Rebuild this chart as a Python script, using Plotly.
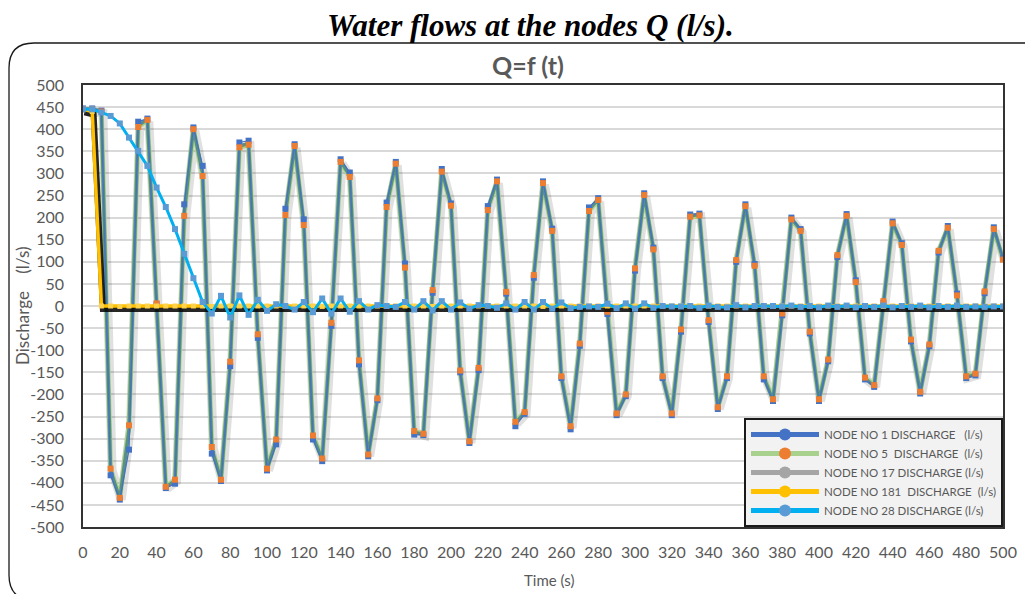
import plotly.graph_objects as go

# ---------------- data ----------------
time_s = list(range(0, 505, 5))

node1 = [447, 447, 442, -383, -438, -325, 417, 424, 4, -412,
         -402, 230, 404, 317, -334, -396, -136, 370, 374, -72,
         -372, -313, 220, 366, 196, -302, -351, -45, 332, 302,
         -132, -340, -213, 234, 326, 96, -291, -292, 30, 310,
         232, -150, -310, -145, 226, 286, 28, -272, -244, 64,
         282, 175, -163, -279, -90, 223, 244, -18, -247, -204,
         80, 255, 132, -163, -247, -58, 207, 209, -36, -233,
         -163, 100, 230, 95, -166, -215, -21, 200, 174, -62,
         -215, -125, 111, 208, 58, -166, -183, 7, 191, 142,
         -80, -198, -91, 121, 181, 28, -163, -157, 29, 178,
         108]

node5 = [445, 445, 440, -368, -434, -270, 405, 421, 6, -409,
         -393, 204, 400, 294, -319, -393, -126, 359, 365, -64,
         -368, -302, 206, 362, 183, -293, -345, -38, 326, 292,
         -123, -336, -209, 224, 322, 87, -283, -289, 36, 304,
         227, -146, -306, -140, 217, 282, 32, -262, -240, 70,
         278, 170, -159, -272, -85, 215, 240, -13, -243, -200,
         85, 251, 128, -159, -243, -53, 202, 205, -32, -229,
         -159, 104, 226, 91, -159, -211, -17, 196, 170, -58,
         -211, -121, 115, 204, 54, -162, -179, 11, 187, 138,
         -76, -194, -87, 125, 177, 24, -159, -153, 33, 174,
         105]

node17 = [445, 445, 441, -372, -436, -280, 409, 422, 5, -410,
          -396, 210, 402, 300, -323, -394, -129, 362, 368, -66,
          -369, -305, 210, 364, 187, -296, -347, -40, 328, 295,
          -126, -338, -210, 227, 324, 90, -286, -290, 34, 306,
          229, -148, -308, -142, 220, 284, 30, -265, -242, 68,
          280, 172, -161, -275, -87, 218, 242, -15, -245, -202,
          83, 253, 130, -161, -245, -55, 204, 207, -34, -231,
          -161, 102, 228, 93, -162, -213, -19, 198, 172, -60,
          -213, -123, 113, 206, 56, -164, -181, 9, 189, 140,
          -78, -196, -89, 123, 179, 26, -161, -155, 31, 176,
          107]

node181 = [445, 440, 0, 0, -1, 0, 0, 0, 0, 0,
           0, 0, 0, 0, -1, 0, 0, 0, 0, 0,
           0, 0, 0, 0, 0, 0, -1, 0, 0, 0,
           0, 0, 0, 0, 0, 0, 0, 0, -1, 0,
           0, 0, 0, 0, 0, 0, 0, 0, 0, 0,
           -1, 0, 0, 0, 0, 0, 0, 0, 0, 0,
           0, 0, 0, -1, 0, 0, 0, 0, 0, 0,
           0, 0, 0, 0, 0, -1, 0, 0, 0, 0,
           0, 0, 0, 0, 0, 0, 0, -1, 0, 0,
           0, 0, 0, 0, 0, 0, 0, 0, -1, 0,
           0]

node28 = [445, 445, 438, 430, 413, 381, 351, 317, 268, 224,
          174, 118, 63, 9, -17, 23, -26, 24, -20, 14,
          -11, 4, 0, -8, 9, -14, 17, -17, 17, -13,
          11, -8, 2, 0, -2, 9, -8, 11, -10, 11,
          -8, 8, -6, 2, 0, -4, 6, -8, 9, -8,
          9, -6, 8, -5, -2, -1, -2, 5, -5, 6,
          -6, 6, -4, 0, -1, -1, 0, -4, 1, -2,
          -3, 2, -3, 0, 0, 0, -1, 1, -2, 0,
          -3, 1, -2, 1, -3, 0, -2, 1, -3, 0,
          -2, 1, -3, 0, -2, 1, -2, -1, -2, -1,
          -1]

series_names = ["NODE NO 1 DISCHARGE\u00a0\u00a0\u00a0(l/s)",
                "NODE NO 5\u00a0\u00a0DISCHARGE\u00a0\u00a0(l/s)",
                "NODE NO 17 DISCHARGE (l/s)",
                "NODE NO 181\u00a0\u00a0DISCHARGE\u00a0\u00a0(l/s)",
                "NODE NO 28 DISCHARGE (l/s)"]

x_ticks = list(range(0, 520, 20))
y_ticks = list(range(-500, 550, 50))

for s in (node1, node5, node17, node181, node28):
    assert len(s) == len(time_s)

# ---------------- layout geometry helpers (decoration only) ----------------
W, H = 1025, 594
ML, MR, MT, MB = 83, 22, 85, 67
PW, PH = W - ML - MR, H - MT - MB


def px(x):
    return (x - ML) / PW


def py(y):
    return (H - MB - y) / PH


FONT = "Lato, 'Open Sans', sans-serif"
GREY_TXT = "#595959"

fig = go.Figure()

# soft shadow beneath oscillating group
fig.add_trace(go.Scatter(x=[t + 0.8 for t in time_s], y=[v - 4 for v in node5],
                         mode="lines", showlegend=False, hoverinfo="skip",
                         line=dict(color="rgba(0,0,0,0.12)", width=9)))
# node 5 green (wide)
fig.add_trace(go.Scatter(x=time_s, y=node5, mode="lines", showlegend=False,
                         line=dict(color="#A9D18E", width=4.8)))
# node 17 (rendered core)
fig.add_trace(go.Scatter(x=time_s, y=node17, mode="lines", showlegend=False,
                         line=dict(color="#5A9082", width=3.4)))
# node 1 blue thin with markers
fig.add_trace(go.Scatter(x=time_s, y=node1, mode="lines+markers", showlegend=False,
                         line=dict(color="#4472C4", width=1.3),
                         marker=dict(symbol="square", size=6, color="#4472C4")))
# node 5 orange markers on top
fig.add_trace(go.Scatter(x=time_s, y=node5, mode="markers", showlegend=False,
                         marker=dict(symbol="square", size=6, color="#ED7D31")))
# shadow of node 181
fig.add_trace(go.Scatter(x=[t + 0.8 for t in time_s], y=[v - 7 for v in node181],
                         mode="lines", showlegend=False, hoverinfo="skip",
                         line=dict(color="rgba(0,0,0,0.85)", width=6)))
# node 181 yellow
fig.add_trace(go.Scatter(x=time_s, y=node181, mode="lines+markers", showlegend=False,
                         line=dict(color="#FFC000", width=3.5),
                         marker=dict(symbol="square", size=5, color="#FFD24D")))
# node 28 light blue
fig.add_trace(go.Scatter(x=time_s, y=node28, mode="lines+markers", showlegend=False,
                         line=dict(color="#00B0F0", width=3),
                         marker=dict(symbol="square", size=6, color="#5B9BD5")))

# legend entries
legend_style = [("#4472C4", "#4472C4"), ("#A9D18E", "#ED7D31"), ("#A5A5A5", "#A5A5A5"),
                ("#FFC000", "#FFC000"), ("#00B0F0", "#5B9BD5")]
for name, (lc, mc) in zip(series_names, legend_style):
    fig.add_trace(go.Scatter(x=[None], y=[None], mode="lines+markers", name=name,
                             line=dict(color=lc, width=4),
                             marker=dict(symbol="circle", size=6, color=mc)))

# white vertical breaks in the horizontal gridlines
shapes = []
for t in x_ticks[1:-1]:
    shapes.append(dict(type="line", xref="x", yref="paper", x0=t, x1=t, y0=0, y1=1,
                       line=dict(color="white", width=2.5), layer="between"))

# rounded chart-area border
r = 25
path = (f"M {px(9)},{py(43 + r)} L {px(9)},{py(600 - r)} "
        f"Q {px(9)},{py(600)} {px(9 + r)},{py(600)} "
        f"L {px(1040)},{py(600)} L {px(1040)},{py(43)} "
        f"L {px(9 + r)},{py(43)} Q {px(9)},{py(43)} {px(9)},{py(43 + r)} Z")
shapes.append(dict(type="path", xref="paper", yref="paper", path=path,
                   line=dict(color="#1a1a1a", width=1.3), layer="below"))

annotations = [
    dict(text="<b><i>Water flows at the nodes Q (l/s).</i></b>", xref="paper", yref="paper",
         x=px(530), y=py(25), xanchor="center", yanchor="middle", showarrow=False,
         font=dict(family="'Liberation Serif', 'Times New Roman', serif", size=31, color="black")),
    dict(text="<b>Q=f (t)</b>", xref="paper", yref="paper",
         x=px(528), y=py(65), xanchor="center", yanchor="middle", showarrow=False,
         font=dict(family=FONT, size=25, color=GREY_TXT)),
    dict(text="Time (s)", xref="paper", yref="paper",
         x=px(549), y=py(580), xanchor="center", yanchor="middle", showarrow=False,
         font=dict(family=FONT, size=15, color=GREY_TXT)),
    dict(text="Discharge\u00a0\u00a0\u00a0\u00a0(l/s)", xref="paper", yref="paper",
         x=px(22), y=py(306), xanchor="center", yanchor="middle", showarrow=False,
         textangle=-90, font=dict(family=FONT, size=17, color=GREY_TXT)),
]

fig.update_layout(
    width=W, height=H,
    margin=dict(l=ML, r=MR, t=MT, b=MB, autoexpand=False),
    paper_bgcolor="white", plot_bgcolor="white",
    font=dict(family=FONT, color=GREY_TXT),
    showlegend=True,
    legend=dict(x=1, y=0, xanchor="right", yanchor="bottom",
                bgcolor="#F2F2F2", bordercolor="#1a1a1a", borderwidth=2,
                font=dict(family=FONT, size=11.5, color=GREY_TXT),
                tracegroupgap=0, itemwidth=68, itemsizing="constant"),
    shapes=shapes,
    annotations=annotations,
    xaxis=dict(range=[0, 500], tickvals=x_ticks, ticktext=[str(v) for v in x_ticks],
               showgrid=False, zeroline=False, showline=True, mirror=True,
               linecolor="#333333", linewidth=1.5, ticks="",
               tickfont=dict(family=FONT, size=16, color=GREY_TXT),
               ticklabelstandoff=10),
    yaxis=dict(range=[-500, 500], tickvals=y_ticks, ticktext=[str(v) for v in y_ticks],
               showgrid=True, gridcolor="#D9D9D9", gridwidth=2,
               zeroline=False, showline=True, mirror=True,
               linecolor="#333333", linewidth=1.5, ticks="",
               tickfont=dict(family=FONT, size=16, color=GREY_TXT),
               ticklabelstandoff=14),
)

fig.write_html("out.html")
